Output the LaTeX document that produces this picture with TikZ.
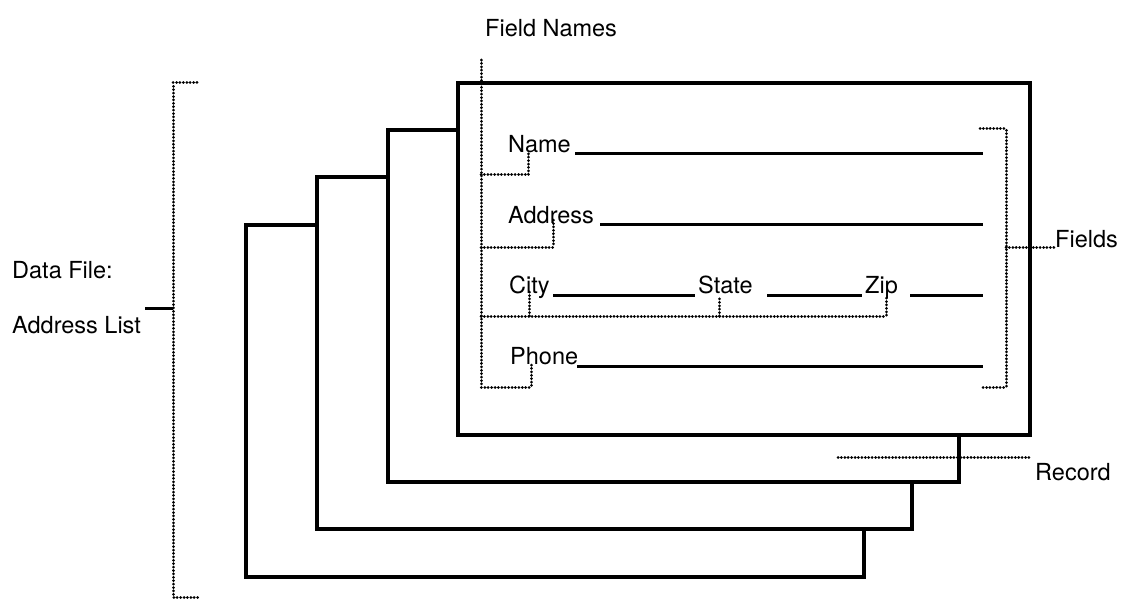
\documentclass[tikz,border=0pt]{standalone}
\usepackage{fontspec}
\setmainfont{TeX Gyre Heros}
\begin{document}
\begin{tikzpicture}[x=1pt,y=-1pt,
  card/.style={draw=black,fill=white,line width=3.2pt},
  blank/.style={line width=3pt},
  leader/.style={line width=3pt,line cap=round,dash pattern=on 0.01pt off 3.4pt},
  lbl/.style={anchor=base west,inner sep=0pt,font=\fontsize{23.5}{28}\selectfont},
  tick/.style={line width=3pt}]
% canvas
\fill[white] (0,0) rectangle (1125,599);
\useasboundingbox (0,0) rectangle (1125,599);

% stacked record cards, back to front
\draw[card] (246,225) rectangle (864,577);
\draw[card] (317,177) rectangle (912,529);
\draw[card] (388,130) rectangle (959,482);
\draw[card] (458,83) rectangle (1030,435);

% field names and entry lines on the front card
\node[lbl] (name)  at (508,153) {Name};
\node[lbl] (addr)  at (508,223) {Address};
\node[lbl] (city)  at (509,293) {City};
\node[lbl] (state) at (698,293) {State};
\node[lbl] (zip)   at (865,293) {Zip};
\node[lbl] (phone) at (510,364) {Phone};

\draw[blank] (575,154) -- (983,154);
\draw[blank] (600,224) -- (983,224);
\draw[blank] (553,295) -- (695,295);
\draw[blank] (767,295) -- (862,295);
\draw[blank] (910,295) -- (983,295);
\draw[blank] (577,366) -- (983,366);

% callout labels
\node[lbl] (fnames) at (485,37) {Field Names};
\node[lbl] (fields) at (1055,247) {Fields};
\node[lbl] (record) at (1035,480) {Record};
\node[lbl] (df)     at (12,278) {Data File:};
\node[lbl] (al)     at (12,333) {Address List};

% leader coordinates
\coordinate (fnTop) at (481,60);
\coordinate (fnBot) at (481,387);
\coordinate (nameT) at (528,153);
\coordinate (addrT) at (553,220);
\coordinate (cityT) at (529,290);
\coordinate (stateT) at (719,297);
\coordinate (zipT) at (886,295);
\coordinate (phoneT) at (531,365);

% "Field Names" leader and its branches
\draw[leader] (fnTop) -- (fnBot) -- (phoneT |- fnBot) -- (phoneT);
\draw[leader] (481,175) -| (nameT);
\draw[leader] (481,247) -| (addrT);
\draw[leader] (481,316) -| (zipT);
\draw[leader] (cityT |- 0,316) -- (cityT);
\draw[leader] (stateT |- 0,316) -- (stateT);

% "Fields" bracket
\draw[leader] (980,129) -- (1006,129) -- (1006,387) -- (982,387);
\draw[leader] (1006,247) -- (fields.west |- 1006,247);

% "Record" leader
\draw[leader] (838,457) -- (1030,457);

% "Data File" bracket
\draw[leader] (197,83) -- (173,83) -- (173,597) -- (199,597);
\draw[tick] (al.north east |- 0,308) ++(4,0) -- (173,308);
\end{tikzpicture}
\end{document}
